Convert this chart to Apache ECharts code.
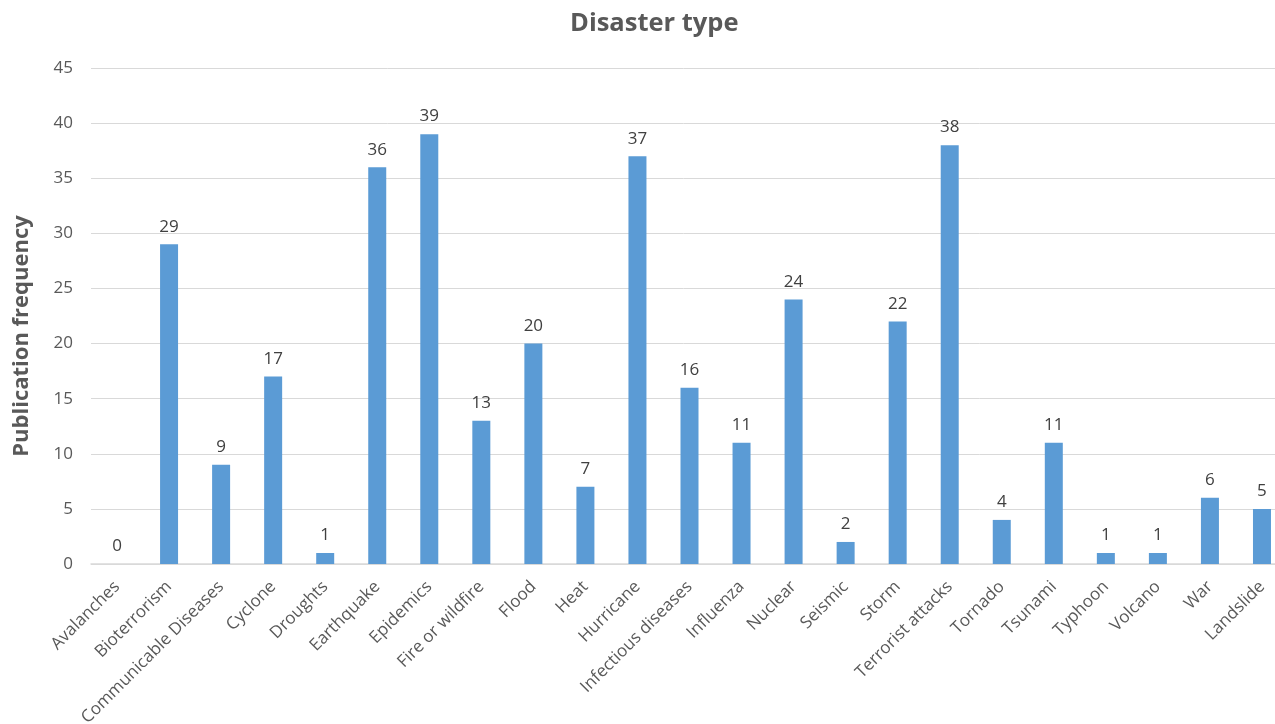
<!DOCTYPE html>
<html>
<head>
<meta charset="utf-8">
<script src="https://cdn.jsdelivr.net/npm/echarts@6/dist/echarts.min.js"></script>
<style>html,body{margin:0;padding:0;background:#fff}#c{width:1275px;height:724px}</style>
</head>
<body>
<div id="c"></div>
<script>
const categories = ["Avalanches","Bioterrorism","Communicable Diseases","Cyclone","Droughts","Earthquake","Epidemics","Fire or wildfire","Flood","Heat","Hurricane","Infectious diseases","Influenza","Nuclear","Seismic","Storm","Terrorist attacks","Tornado","Tsunami","Typhoon","Volcano","War","Landslide"];
const values = [0,29,9,17,1,36,39,13,20,7,37,16,11,24,2,22,38,4,11,1,1,6,5];
const chartTitle = "Disaster type";
const yAxisTitle = "Publication frequency";

const chart = echarts.init(document.getElementById('c'));
chart.setOption({
  animation: false,
  backgroundColor: '#ffffff',
  title: {
    text: chartTitle, left: 565, top: 6,
    textStyle: {fontFamily: 'Open Sans', fontSize: 25.5, fontWeight: 'bold', color: '#595959'}
  },
  graphic: [{
    type: 'text', x: 22, y: 336, rotation: Math.PI/2,
    style: {text: yAxisTitle, font: 'bold 22px "Open Sans"', fill: '#595959', textAlign: 'center', textVerticalAlign: 'middle'}
  }],
  grid: {left: 91, width: 1197, top: 68, bottom: 160, outerBoundsMode: 'none', containLabel: false},
  xAxis: {
    type: 'category', data: categories,
    axisLine: {lineStyle: {color: '#d9d9d9', width: 1.5}},
    axisTick: {show: false},
    axisLabel: {rotate: 45, interval: 0, fontFamily: 'Open Sans', fontSize: 17, color: '#595959', margin: 20}
  },
  yAxis: {
    type: 'value', min: 0, max: 45, interval: 5,
    axisLine: {show: false}, axisTick: {show: false},
    splitLine: {lineStyle: {color: '#d9d9d9', width: 1}},
    axisLabel: {fontFamily: 'Open Sans', fontSize: 17, color: '#595959', margin: 18}
  },
  series: [{
    type: 'bar', data: values, barWidth: 18,
    itemStyle: {color: '#5b9bd5'},
    label: {show: true, position: 'top', distance: 9, fontFamily: 'Open Sans', fontSize: 17, color: '#404040'}
  }]
});
</script>
</body>
</html>
